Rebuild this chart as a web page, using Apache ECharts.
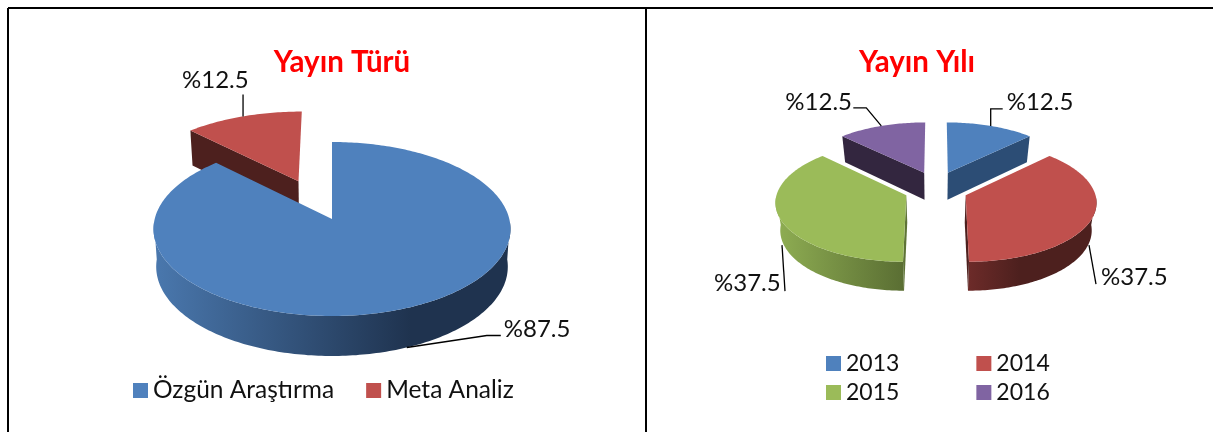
<!DOCTYPE html>
<html>
<head>
<meta charset="utf-8">
<style>
  html, body { margin: 0; padding: 0; background: #fff; }
  #main { width: 1213px; height: 432px; }
</style>
<script src="https://cdn.jsdelivr.net/npm/echarts@6/dist/echarts.min.js"></script>
</head>
<body>
<div id="main"></div>
<script>
const typeNames = ['Özgün Araştırma', 'Meta Analiz']
const typeValues = [87.5, 12.5]
const yearNames = ['2013', '2014', '2015', '2016']
const yearValues = [12.5, 37.5, 37.5, 12.5]

const FONT = 'Lato, "Noto Sans", sans-serif'
const LABEL_SIZE = 24

// one fake-3d pie: a projected disc (k = perspective) with a wall below it
const typePie = {
  names: typeNames, values: typeValues,
  cx: 332, cy: 219, a: 177.3, b: 85.85, k: 0.115,
  sx: 0.985, sy: 0.0264, dy: 37.4,
  explodeU: [0, 0.52], explodeV: [0, 0.5],
  colors: ['#4f81bd', '#c0504d'],
  cuts: ['#1f334f', '#4d201e'],
  cutEdges: [[], [0]],
  walls: [
    [[0, '#4a78ae'], [0.72, '#1f334f'], [1, '#1f334f']],
    [[0, '#4d201e'], [1, '#4d201e']]
  ],
  // leader line points and label, relative to the rim at the middle of the slice
  leaders: [
    { rim: 'bottom', start: [0, 0], line: [[80, -12], [94, -12]], label: [97, -18] },
    { rim: 'top', start: [0, 0], line: [[0, -22]], label: [-61, -36] }
  ],
  drawOrder: [1, 0]
}
const yearPie = {
  names: yearNames, values: yearValues,
  cx: 936, cy: 189, a: 128.5, b: 58.4, k: 0.1,
  sx: 0.97, sy: 0.0235, dy: 27.3,
  explodeU: [0.247, 0.247, 0.247, 0.247], explodeV: [0.31, 0.28, 0.28, 0.31],
  colors: ['#4f81bd', '#c0504d', '#9bbb59', '#8064a2'],
  cuts: ['#2c4d75', '#4d201e', '#5e7336', '#33263f'],
  cutEdges: [[1], [1], [0], [0]],
  walls: [
    [[0, '#2c4d75'], [1, '#2c4d75']],
    [[0, '#6d2b29'], [0.4, '#4d201e'], [1, '#4d201e']],
    [[0, '#8fae53'], [1, '#5a6e33']],
    [[0, '#33263f'], [1, '#33263f']]
  ],
  leaders: [
    { rim: 'top', start: [0, 0], line: [[0, -17], [12, -17]], label: [16, -24] },
    { rim: 'bottom', start: [2, -2], line: [[9, 37]], label: [14, 30] },
    { rim: 'bottom', start: [-3, -2], line: [[0, 44]], label: [-71, 36] },
    { rim: 'top', start: [0, 0], line: [[-15, -18], [-28, -18]], label: [-96, -24] }
  ],
  drawOrder: [0, 3, 1, 2]
}

// only this part of the rim faces the viewer
const WALL_FROM = 92
const WALL_TO = 268

function project (pie, i, deg, onlyExplode) {
  const total = pie.values.reduce((s, v) => s + v, 0)
  let start = 0
  for (let j = 0; j < i; j++) start += pie.values[j] / total * 360
  const mid = (start + pie.values[i] / total * 180) * Math.PI / 180
  const t = deg * Math.PI / 180
  const r = onlyExplode ? 0 : 1
  const u = r * Math.sin(t) + pie.explodeU[i] * Math.sin(mid)
  const v = -r * Math.cos(t) - pie.explodeV[i] * Math.cos(mid)
  const den = 1 - pie.k * v
  return [pie.cx + pie.a * u / den, pie.cy + pie.b * v / den]
}

function lower (pie, p) {
  return [pie.cx + (p[0] - pie.cx) * pie.sx, p[1] + pie.dy + (p[1] - pie.cy) * pie.sy]
}

function rimPoints (pie, i, a0, a1) {
  const pts = []
  for (let d = a0; d < a1; d += 1) pts.push(project(pie, i, d))
  pts.push(project(pie, i, a1))
  return pts
}

function sliceSeries (pie, i) {
  const total = pie.values.reduce((s, v) => s + v, 0)
  let start = 0
  for (let j = 0; j < i; j++) start += pie.values[j] / total * 360
  const end = start + pie.values[i] / total * 360
  return {
    type: 'custom',
    name: pie.names[i],
    coordinateSystem: 'none',
    silent: true,
    itemStyle: { color: pie.colors[i] },
    data: [[start, end, pie.values[i]]],
    renderItem (params, api) {
      const a0 = api.value(0)
      const a1 = api.value(1)
      const arc = rimPoints(pie, i, a0, a1)
      const apex = project(pie, i, 0, true)
      const children = []
      const w0 = Math.max(a0, WALL_FROM)
      const w1 = Math.min(a1, WALL_TO)
      if (w1 > w0) {
        const front = rimPoints(pie, i, w0, w1)
        children.push({
          type: 'polygon',
          shape: { points: front.concat(front.map(p => lower(pie, p)).reverse()) },
          style: { fill: new echarts.graphic.LinearGradient(0, 0, 1, 0, pie.walls[i].map(s => ({ offset: s[0], color: s[1] }))) }
        })
      }
      pie.cutEdges[i].forEach(e => {
        const c = e === 0 ? arc[0] : arc[arc.length - 1]
        children.push({
          type: 'polygon',
          shape: { points: [apex, c, lower(pie, c), lower(pie, apex)] },
          style: { fill: pie.cuts[i] }
        })
      })
      children.push({
        type: 'polygon',
        shape: { points: [apex].concat(arc) },
        style: { fill: pie.colors[i] }
      })
      const leader = pie.leaders[i]
      const rimTop = project(pie, i, (a0 + a1) / 2)
      const anchor = leader.rim === 'bottom' ? lower(pie, rimTop) : rimTop
      const linePts = [leader.start].concat(leader.line).map(o => [anchor[0] + o[0], anchor[1] + o[1]])
      children.push({
        type: 'polyline',
        shape: { points: linePts },
        style: { fill: null, stroke: '#000', lineWidth: 1.3 }
      })
      children.push({
        type: 'text',
        style: {
          text: '%' + api.value(2),
          x: anchor[0] + leader.label[0],
          y: anchor[1] + leader.label[1],
          verticalAlign: 'middle',
          font: LABEL_SIZE + 'px ' + FONT,
          fill: '#111'
        }
      })
      return { type: 'group', children }
    }
  }
}

const series = []
;[typePie, yearPie].forEach(pie => {
  pie.drawOrder.forEach(i => series.push(sliceSeries(pie, i)))
})

const legendBase = { orient: 'horizontal', icon: 'rect', itemWidth: 15, itemHeight: 15, selectedMode: false, padding: 0 }
const typeText = { fontFamily: FONT, fontSize: 24.5, color: '#111' }
const yearText = { fontFamily: FONT, fontSize: 23, color: '#111' }
const titleText = { color: '#ff0000', fontFamily: FONT, fontWeight: 'bold', fontSize: 29.5 }

const chart = echarts.init(document.getElementById('main'), null, { renderer: 'canvas' })
chart.setOption({
  animation: false,
  backgroundColor: '#fff',
  title: [
    { text: 'Yayın Türü', left: 342, top: 47, padding: 0, textAlign: 'center', textStyle: titleText },
    { text: 'Yayın Yılı', left: 917, top: 47, padding: 0, textAlign: 'center', textStyle: titleText }
  ],
  legend: [
    Object.assign({}, legendBase, { data: typeNames, left: 133, top: 378, itemGap: 32, textStyle: typeText }),
    Object.assign({}, legendBase, { data: yearNames.slice(0, 2), left: 826, top: 352, itemGap: 77, textStyle: yearText }),
    Object.assign({}, legendBase, { data: yearNames.slice(2), left: 826, top: 381, itemGap: 77, textStyle: yearText })
  ],
  graphic: [
    { type: 'line', shape: { x1: 8, y1: 8, x2: 1213, y2: 8 }, style: { stroke: '#000', lineWidth: 2 } },
    { type: 'line', shape: { x1: 8, y1: 8, x2: 8, y2: 432 }, style: { stroke: '#000', lineWidth: 2 } },
    { type: 'line', shape: { x1: 646, y1: 8, x2: 646, y2: 432 }, style: { stroke: '#000', lineWidth: 2 } }
  ],
  series
})
</script>
</body>
</html>
